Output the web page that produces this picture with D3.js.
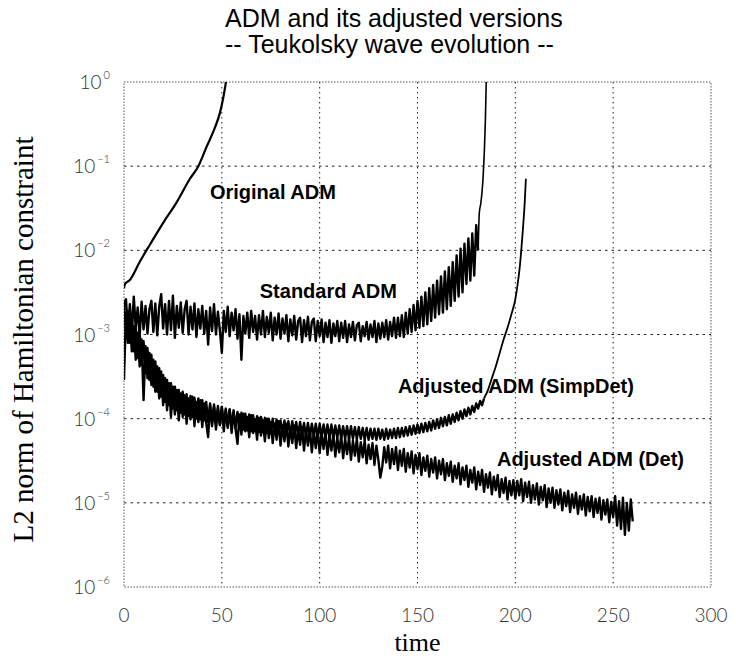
<!DOCTYPE html>
<html>
<head>
<meta charset="utf-8">
<script src="https://cdn.jsdelivr.net/npm/d3@7/dist/d3.min.js"></script>
<style>
  body { margin: 0; background: #fff; }
  svg { display: block; }
</style>
</head>
<body>
<div id="chart"></div>
<script>
'use strict';

// Axis ticks
const timeTicks = [0, 50, 100, 150, 200, 250, 300];
const decadeTicks = [0, -1, -2, -3, -4, -5, -6]; // exponents of 10

// All curve values are log10 of the L2 norm.
// Noisy runs are sampled every STEP time units from t = 0.
const STEP = 1;

// Original ADM, smooth, [time, log10 norm]
const originalAdm = [
  [0, -2.45], [0.5, -2.4], [3.1, -2.35], [8.2, -2.13], [13.3, -1.93],
  [20.1, -1.67], [26.9, -1.43], [33.7, -1.15], [38, -1.0], [42.2, -0.77],
  [46.5, -0.54], [49, -0.37], [50.7, -0.19], [52.1, 0.0], [52.6, 0.08]
];

// Standard ADM, t = 0 .. 181
const standardAdm = [
  -2.65, -2.58, -2.96, -2.64, -2.99, -2.55, -2.92, -2.68, -3.02, -2.61,
  -2.94, -2.66, -2.99, -2.7, -2.6, -2.97, -2.63, -3.01, -2.67, -2.52,
  -2.93, -2.64, -3.0, -2.6, -2.95, -2.54, -3.04, -2.66, -2.92, -2.62,
  -2.98, -2.7, -2.6, -3.0, -2.67, -2.94, -2.63, -3.03, -2.7, -2.93,
  -2.66, -2.99, -2.72, -3.12, -2.68, -2.96, -2.64, -3.0, -2.73, -2.95,
  -3.22, -2.72, -2.97, -2.67, -3.02, -2.74, -2.95, -2.7, -3.05, -2.76,
  -3.3, -2.78, -2.99, -2.74, -3.04, -2.72, -2.97, -2.78, -3.06, -2.77,
  -3.0, -2.72, -3.03, -2.79, -2.98, -2.74, -3.07, -2.8, -3.0, -2.75,
  -3.05, -2.81, -2.99, -2.77, -3.08, -2.82, -3.01, -2.78, -3.06, -2.84,
  -2.8, -3.09, -2.83, -3.02, -2.79, -3.07, -2.85, -2.81, -3.08, -2.84,
  -3.02, -2.82, -3.09, -2.86, -3.03, -2.83, -3.1, -2.87, -3.02, -2.84,
  -3.08, -2.86, -3.04, -2.84, -3.09, -2.88, -3.03, -2.85, -3.07, -2.89,
  -2.86, -3.08, -2.9, -3.02, -2.85, -3.06, -2.88, -3.03, -2.84, -3.09,
  -2.87, -3.05, -2.86, -3.03, -2.83, -3.06, -2.85, -3.02, -2.8, -3.04,
  -2.8, -3.02, -2.77, -3.03, -2.74, -2.99, -2.7, -2.97, -2.65, -2.95,
  -2.6, -2.92, -2.55, -2.9, -2.5, -2.88, -2.45, -2.84, -2.41, -2.8,
  -2.36, -2.76, -2.31, -2.74, -2.25, -2.7, -2.2, -2.66, -2.14, -2.6,
  -2.06, -2.55, -1.98, -2.5, -1.92, -2.4, -1.86, -2.36, -1.8, -2.3,
  -1.7, -2.0
];
const standardTail = [
  [181.6, -1.55], [182.3, -1.45], [183, -1.3], [183.6, -1.1],
  [184.2, -0.8], [184.7, -0.45], [185.2, 0.08]
];

// Adjusted ADM (SimpDet), t = 0 .. 184
const simpDetAdm = [
  -2.62, -3.0, -2.72, -3.1, -2.8, -3.2, -2.9, -3.28, -2.98, -3.36,
  -3.08, -3.46, -3.16, -3.54, -3.24, -3.62, -3.32, -3.68, -3.4, -3.74,
  -3.48, -3.8, -3.54, -3.84, -3.58, -3.88, -3.62, -3.9, -3.66, -3.93,
  -3.68, -3.95, -3.71, -3.97, -3.73, -3.98, -3.75, -4.0, -3.76, -4.01,
  -3.78, -4.02, -3.8, -4.04, -3.82, -4.05, -3.83, -4.06, -3.85, -4.07,
  -3.86, -4.08, -3.88, -4.09, -3.89, -4.1, -3.9, -4.11, -3.92, -4.12,
  -3.93, -4.13, -3.94, -4.14, -3.95, -4.15, -3.96, -4.15, -3.97, -4.16,
  -3.98, -4.16, -3.99, -4.17, -4.0, -4.17, -4.0, -4.18, -4.01, -4.18,
  -4.02, -4.18, -4.02, -4.19, -4.03, -4.19, -4.03, -4.2, -4.04, -4.2,
  -4.04, -4.2, -4.05, -4.21, -4.05, -4.21, -4.06, -4.21, -4.06, -4.22,
  -4.06, -4.22, -4.07, -4.22, -4.07, -4.23, -4.07, -4.23, -4.08, -4.23,
  -4.08, -4.23, -4.09, -4.24, -4.09, -4.24, -4.09, -4.24, -4.1, -4.24,
  -4.1, -4.24, -4.11, -4.25, -4.11, -4.25, -4.12, -4.24, -4.12, -4.25,
  -4.12, -4.24, -4.13, -4.25, -4.12, -4.24, -4.13, -4.23, -4.12, -4.23,
  -4.11, -4.22, -4.11, -4.21, -4.1, -4.2, -4.09, -4.19, -4.08, -4.18,
  -4.07, -4.17, -4.06, -4.16, -4.05, -4.15, -4.04, -4.14, -4.02, -4.12,
  -4.01, -4.11, -3.99, -4.09, -3.98, -4.08, -3.96, -4.06, -3.95, -4.04,
  -3.93, -4.02, -3.91, -4.0, -3.89, -3.97, -3.87, -3.95, -3.85, -3.92,
  -3.82, -3.88, -3.79, -3.84, -3.76
];
const simpDetTail = [
  [186, -3.66], [188, -3.52], [190, -3.38], [192, -3.22], [194, -3.06],
  [196, -2.92], [198, -2.76], [200, -2.58], [201.2, -2.4], [202.3, -2.19],
  [203.2, -1.95], [204, -1.71], [204.8, -1.43], [205.4, -1.15]
];

// Adjusted ADM (Det), t = 0 .. 260
const detAdm = [
  -3.54, -2.74, -3.1, -2.82, -3.2, -2.9, -3.3, -2.98, -3.38, -3.06,
  -3.78, -3.14, -3.52, -3.22, -3.6, -3.3, -3.68, -3.38, -3.76, -3.44,
  -3.84, -3.52, -3.9, -3.58, -3.98, -3.62, -3.95, -3.66, -4.02, -3.7,
  -3.98, -3.72, -4.06, -3.76, -4.01, -3.74, -4.09, -3.8, -4.04, -3.78,
  -4.1, -3.82, -4.05, -4.22, -3.84, -4.09, -3.86, -4.13, -3.88, -4.08,
  -3.86, -4.15, -3.9, -4.11, -3.89, -4.17, -3.93, -4.12, -4.3, -3.95,
  -4.19, -3.94, -4.15, -3.98, -4.22, -3.96, -4.17, -4.01, -4.25, -3.99,
  -4.2, -4.02, -4.27, -4.0, -4.23, -4.04, -4.29, -4.06, -4.25, -4.03,
  -4.32, -4.08, -4.27, -4.06, -4.33, -4.1, -4.29, -4.08, -4.35, -4.12,
  -4.31, -4.1, -4.38, -4.14, -4.32, -4.12, -4.4, -4.16, -4.35, -4.14,
  -4.41, -4.18, -4.36, -4.16, -4.43, -4.21, -4.38, -4.18, -4.45, -4.23,
  -4.4, -4.2, -4.47, -4.24, -4.42, -4.22, -4.49, -4.26, -4.44, -4.24,
  -4.51, -4.28, -4.46, -4.26, -4.53, -4.31, -4.48, -4.29, -4.55, -4.32,
  -4.49, -4.7, -4.57, -4.34, -4.52, -4.32, -4.59, -4.36, -4.54, -4.34,
  -4.61, -4.38, -4.56, -4.36, -4.63, -4.41, -4.58, -4.39, -4.65, -4.43,
  -4.6, -4.41, -4.67, -4.46, -4.62, -4.44, -4.69, -4.48, -4.64, -4.46,
  -4.71, -4.5, -4.66, -4.48, -4.73, -4.53, -4.68, -4.51, -4.75, -4.56,
  -4.71, -4.53, -4.78, -4.58, -4.73, -4.56, -4.81, -4.61, -4.76, -4.58,
  -4.84, -4.63, -4.79, -4.61, -4.87, -4.66, -4.82, -4.64, -4.9, -4.69,
  -4.85, -4.67, -4.93, -4.72, -4.88, -4.7, -4.96, -4.74, -4.91, -4.73,
  -4.95, -4.74, -4.91, -4.72, -4.98, -4.76, -4.93, -4.75, -5.0, -4.79,
  -4.96, -4.77, -5.02, -4.81, -4.97, -4.79, -5.05, -4.83, -5.0, -4.82,
  -5.06, -4.85, -5.02, -4.84, -5.09, -4.88, -5.04, -4.86, -5.11, -4.9,
  -5.06, -4.88, -5.13, -4.92, -5.08, -4.9, -5.15, -4.93, -5.1, -4.92,
  -5.17, -4.95, -5.12, -4.94, -5.2, -4.97, -5.14, -4.96, -5.23, -4.99,
  -5.17, -4.92, -5.27, -4.98, -5.31, -4.94, -5.38, -5.0, -5.33, -4.96,
  -5.22
];

class ConstraintChart {

  constructor(element, d3) {
    this.d3 = d3;
    this._element = element;
    this.width = 736;
    this.height = 661;
    this.plot = { left: 124, right: 711, top: 82, bottom: 587 };
  }

  init() {
    const d3 = this.d3;
    this.svg = d3.select(this._element).append('svg')
      .attr('width', this.width)
      .attr('height', this.height);

    this.x = d3.scaleLinear().domain([0, 300]).range([this.plot.left, this.plot.right]);
    this.y = d3.scaleLog().domain([1e-6, 1]).range([this.plot.bottom, this.plot.top]);

    this.svg.append('defs').append('clipPath')
      .attr('id', 'plot-clip')
      .append('rect')
      .attr('x', this.plot.left)
      .attr('y', this.plot.top)
      .attr('width', this.plot.right - this.plot.left)
      .attr('height', this.plot.bottom - this.plot.top);
  }

  drawFrame() {
    const x = this.x, y = this.y, p = this.plot;
    const g = this.svg.append('g').attr('class', 'grid');

    // vertical grid, not on the borders
    g.selectAll('line.v')
      .data(timeTicks.filter(t => t > 0 && t < 300))
      .enter().append('line')
      .attr('x1', d => x(d)).attr('x2', d => x(d))
      .attr('y1', p.top).attr('y2', p.bottom)
      .attr('stroke', '#222').attr('stroke-width', 1)
      .attr('stroke-dasharray', '1.5,3.5');

    g.selectAll('line.h')
      .data(decadeTicks.filter(e => e < 0 && e > -6))
      .enter().append('line')
      .attr('x1', p.left).attr('x2', p.right)
      .attr('y1', d => y(Math.pow(10, d))).attr('y2', d => y(Math.pow(10, d)))
      .attr('stroke', '#222').attr('stroke-width', 1)
      .attr('stroke-dasharray', '2.5,4');

    g.append('rect')
      .attr('x', p.left).attr('y', p.top)
      .attr('width', p.right - p.left).attr('height', p.bottom - p.top)
      .attr('fill', 'none')
      .attr('stroke', '#555').attr('stroke-width', 1)
      .attr('stroke-dasharray', '1.5,1.5');

    // tick labels
    this.svg.append('g').selectAll('text')
      .data(timeTicks)
      .enter().append('text')
      .attr('x', d => x(d))
      .attr('y', 622)
      .attr('text-anchor', 'middle')
      .attr('font-family', 'Lato, "Open Sans", sans-serif')
      .attr('font-weight', 300)
      .attr('font-size', 19)
      .attr('fill', '#333')
      .text(d => d);

    const yl = this.svg.append('g').selectAll('text')
      .data(decadeTicks)
      .enter().append('text')
      .attr('x', 110)
      .attr('y', d => y(Math.pow(10, d)) + 7)
      .attr('text-anchor', 'end')
      .attr('font-family', 'Lato, "Open Sans", sans-serif')
      .attr('font-weight', 300)
      .attr('font-size', 19)
      .attr('fill', '#333');
    yl.append('tspan').text('10');
    yl.append('tspan')
      .attr('dy', -10)
      .attr('dx', 2)
      .attr('font-size', 11)
      .text(d => d === 0 ? '0' : '\u2212' + Math.abs(d));

    // titles, two separate lines
    const titleLines = ['ADM and its adjusted versions', '-- Teukolsky wave evolution --'];
    this.svg.append('g').selectAll('text')
      .data(titleLines)
      .enter().append('text')
      .attr('x', 225)
      .attr('y', (d, i) => 27 + i * 26)
      .attr('font-family', '"Liberation Sans", Arial, sans-serif')
      .attr('font-size', 25)
      .attr('fill', '#000')
      .text(d => d);

    this.svg.append('text')
      .attr('x', (p.left + p.right) / 2)
      .attr('y', 651)
      .attr('text-anchor', 'middle')
      .attr('font-family', '"Liberation Serif", serif')
      .attr('font-size', 26)
      .text('time');

    this.svg.append('text')
      .attr('transform', 'translate(33,' + ((p.top + p.bottom) / 2 + 5) + ') rotate(-90)')
      .attr('text-anchor', 'middle')
      .attr('font-family', '"Liberation Serif", serif')
      .attr('font-size', 29)
      .text('L2 norm of Hamiltonian constraint');
  }

  drawSeries() {
    const d3 = this.d3, x = this.x, y = this.y;
    const lineFor = curve => d3.line()
      .curve(curve)
      .x(d => x(d[0]))
      .y(d => y(Math.pow(10, d[1])));
    const sampled = vals => vals.map((v, i) => [i * STEP, v]);
    const lastOf = vals => [(vals.length - 1) * STEP, vals[vals.length - 1]];

    const series = [
      { pts: originalAdm, w: 2.2, curve: d3.curveMonotoneX },
      { pts: sampled(standardAdm), w: 2.4, curve: d3.curveLinear },
      { pts: [lastOf(standardAdm)].concat(standardTail), w: 1.6, curve: d3.curveMonotoneX },
      { pts: sampled(simpDetAdm), w: 2.4, curve: d3.curveLinear },
      { pts: [lastOf(simpDetAdm)].concat(simpDetTail), w: 1.8, curve: d3.curveMonotoneX },
      { pts: sampled(detAdm), w: 2.4, curve: d3.curveLinear }
    ];

    this.svg.append('g')
      .attr('clip-path', 'url(#plot-clip)')
      .selectAll('path')
      .data(series)
      .enter().append('path')
      .attr('d', d => lineFor(d.curve)(d.pts))
      .attr('fill', 'none')
      .attr('stroke', '#000')
      .attr('stroke-width', d => d.w)
      .attr('stroke-linejoin', 'round');

    // curve names, anchored in data coordinates (time, log10 norm)
    const labels = [
      { text: 'Original ADM', t: 43.9, e: -1.39 },
      { text: 'Standard ADM', t: 69.4, e: -2.57 },
      { text: 'Adjusted ADM (SimpDet)', t: 140, e: -3.69 },
      { text: 'Adjusted ADM (Det)', t: 190.6, e: -4.56 }
    ];
    this.svg.append('g').selectAll('text')
      .data(labels)
      .enter().append('text')
      .attr('x', d => x(d.t))
      .attr('y', d => y(Math.pow(10, d.e)))
      .attr('font-family', '"Liberation Sans", Arial, sans-serif')
      .attr('font-weight', 'bold')
      .attr('font-size', 20)
      .attr('fill', '#000')
      .text(d => d.text);
  }
}

const chart = new ConstraintChart(document.getElementById('chart'), d3);
chart.init();
chart.drawFrame();
chart.drawSeries();
</script>
</body>
</html>
